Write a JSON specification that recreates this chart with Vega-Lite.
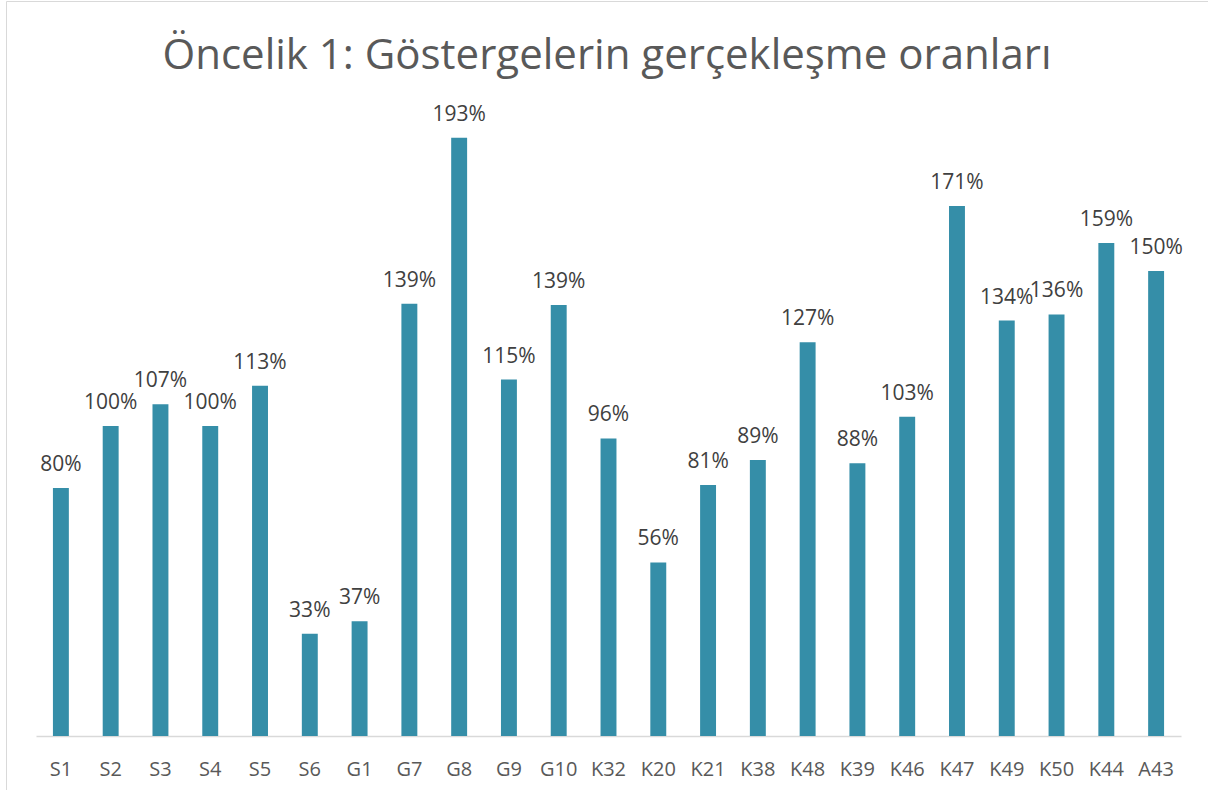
{
  "$schema": "https://vega.github.io/schema/vega-lite/v6.json",
  "width": 1202,
  "height": 789,
  "autosize": {"type": "none"},
  "padding": {"left": 6, "top": 1, "right": 0, "bottom": 0},
  "background": "white",
  "config": {
    "view": {"stroke": "#d9d9d9", "strokeWidth": 1},
    "font": "Open Sans"
  },
  "title": {
    "text": "Öncelik 1: Göstergelerin gerçekleşme oranları",
    "font": "Open Sans",
    "fontSize": 42,
    "fontWeight": "normal",
    "color": "#595959",
    "anchor": "middle",
    "frame": "group",
    "orient": "top",
    "baseline": "alphabetic",
    "offset": -110
  },
  "data": {
    "values": [
      {"kod": "S1", "oran": 0.80},
      {"kod": "S2", "oran": 1.00},
      {"kod": "S3", "oran": 1.07},
      {"kod": "S4", "oran": 1.00},
      {"kod": "S5", "oran": 1.13},
      {"kod": "S6", "oran": 0.33},
      {"kod": "G1", "oran": 0.37},
      {"kod": "G7", "oran": 1.394},
      {"kod": "G8", "oran": 1.93},
      {"kod": "G9", "oran": 1.15},
      {"kod": "G10", "oran": 1.39},
      {"kod": "K32", "oran": 0.96},
      {"kod": "K20", "oran": 0.56},
      {"kod": "K21", "oran": 0.81},
      {"kod": "K38", "oran": 0.89},
      {"kod": "K48", "oran": 1.27},
      {"kod": "K39", "oran": 0.88},
      {"kod": "K46", "oran": 1.03},
      {"kod": "K47", "oran": 1.71},
      {"kod": "K49", "oran": 1.34},
      {"kod": "K50", "oran": 1.36},
      {"kod": "K44", "oran": 1.59},
      {"kod": "A43", "oran": 1.50}
    ]
  },
  "encoding": {
    "x": {
      "field": "kod",
      "type": "nominal",
      "sort": null,
      "scale": {"range": [30, 1175], "paddingInner": 0.68, "paddingOuter": 0.34},
      "axis": {
        "title": null,
        "orient": "bottom",
        "offset": -54,
        "labelAngle": 0,
        "ticks": false,
        "domainColor": "#d9d9d9",
        "domainWidth": 1.5,
        "labelColor": "#595959",
        "labelFont": "Open Sans",
        "labelFontSize": 20,
        "labelBaseline": "alphabetic",
        "labelPadding": 39,
        "grid": false
      }
    },
    "y": {
      "field": "oran",
      "type": "quantitative",
      "scale": {"domain": [0, 2], "range": [735, 115], "nice": false, "zero": true},
      "axis": null
    }
  },
  "layer": [
    {"mark": {"type": "bar", "color": "#358ea8"}},
    {
      "mark": {
        "type": "text",
        "font": "Open Sans",
        "fontSize": 21,
        "color": "#404040",
        "baseline": "alphabetic",
        "align": "center",
        "dy": -17
      },
      "encoding": {"text": {"field": "oran", "type": "quantitative", "format": ".0%"}}
    }
  ]
}
